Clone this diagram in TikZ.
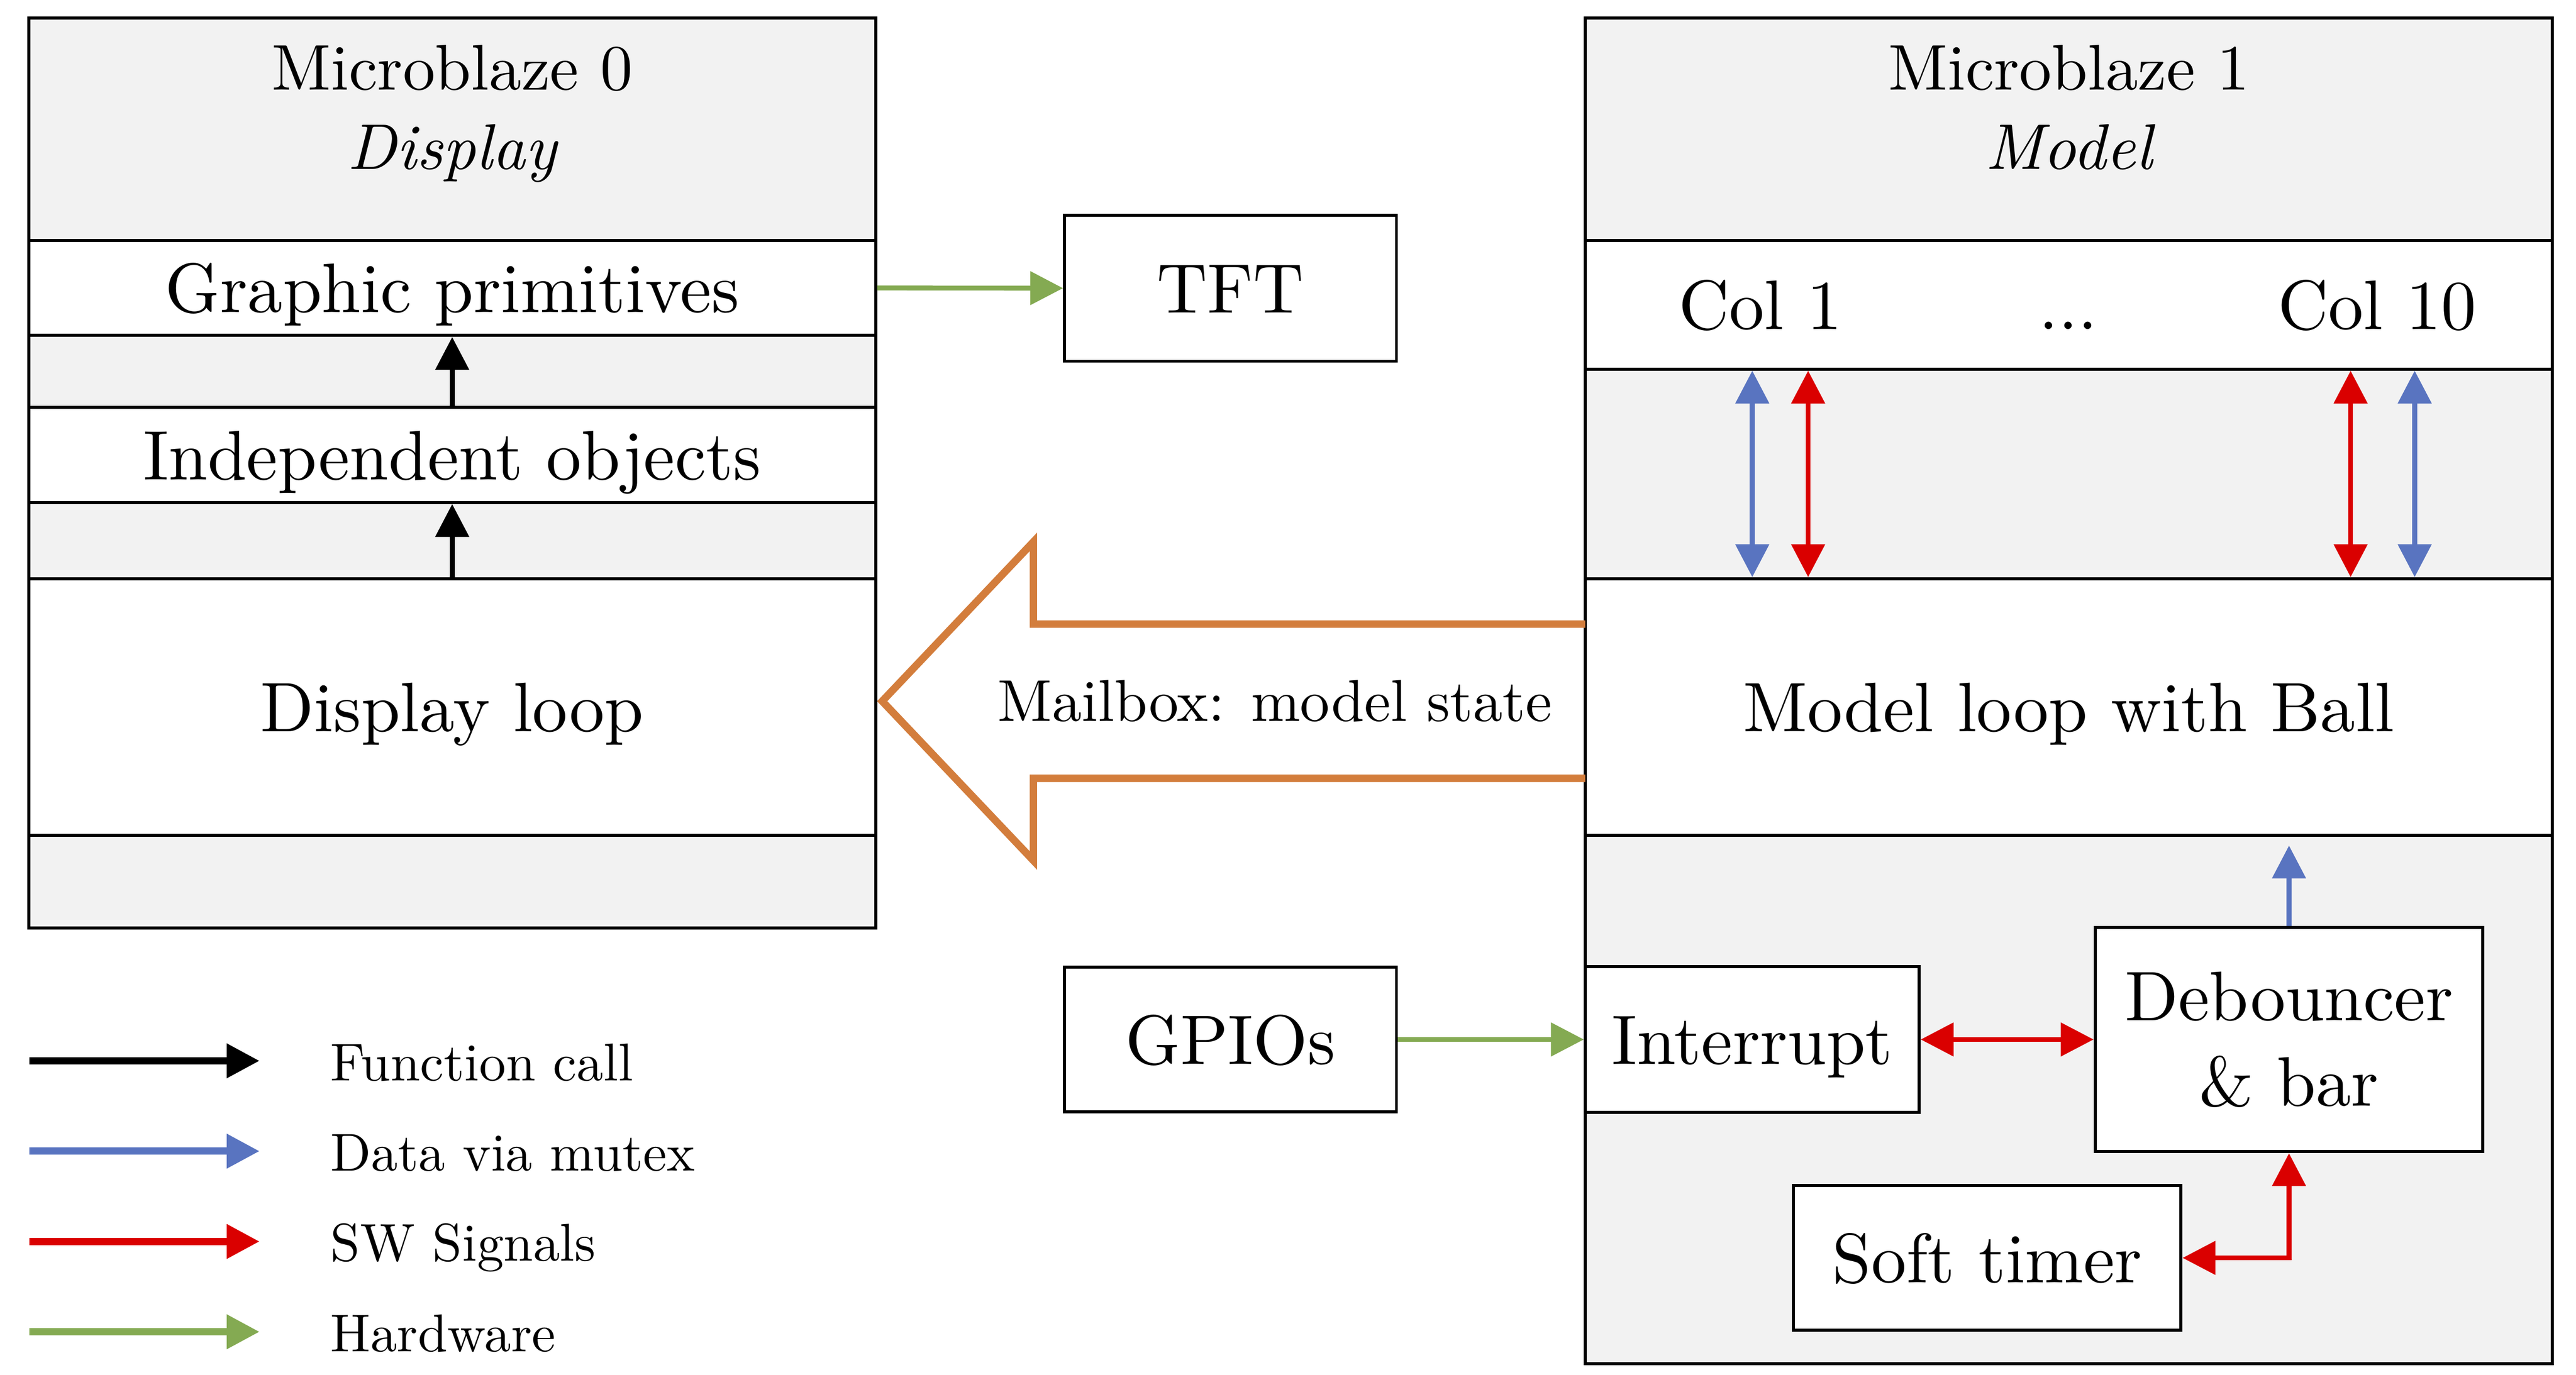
\documentclass[tikz,border=0pt]{standalone}
\usepackage{fontspec}
\setmainfont{lmroman10-regular}[Extension=.otf, ItalicFont=lmroman10-italic, BoldFont=lmroman10-bold]
\usetikzlibrary{arrows.meta}

\definecolor{mbgray}{RGB}{242,242,242}
\definecolor{cblue}{RGB}{89,116,192}
\definecolor{cred}{RGB}{218,0,0}
\definecolor{cgreen}{RGB}{132,170,82}
\definecolor{corange}{RGB}{211,125,60}

\begin{document}
\begin{tikzpicture}[x=0.75pt,y=0.75pt,yscale=-1,xscale=1,
  >={Triangle[length=15pt,width=15pt]},
  cpu/.style={draw, line width=1.4pt, fill=mbgray, inner sep=0pt},
  blk/.style={draw, line width=1.4pt, fill=white, inner sep=0pt, font=\fontsize{32}{39}\selectfont},
  mid/.style={text height=22.5pt, text depth=0pt},
  title/.style={anchor=base, font=\fontsize{29.5}{36}\selectfont},
  lbl/.style={anchor=base, font=\fontsize{32}{39}\selectfont},
  fcall/.style={->, line width=2.25pt, black},
  mutex/.style={line width=2.25pt, cblue},
  sig/.style={line width=2.25pt, cred},
  hw/.style={->, line width=2.25pt, cgreen},
  mbx/.style={draw=corange, line width=3.4pt},
  legtext/.style={anchor=base west, inner sep=0pt, font=\fontsize{24.3}{29}\selectfont}
]
\useasboundingbox (0,0) rectangle (1568,837.2);

% Microblaze 0
\node[cpu, minimum width=386.6pt, minimum height=415.5pt] (mb0) at (275.25,288) {};
\node[title] (mb0name) at (275.25,54.8) {Microblaze 0};
\node[title] (mb0role) at (275.25,102.9) {\itshape Display};
\node[blk, mid, minimum width=386.6pt, minimum height=43.4pt] (gp) at (275.25,175.35) {Graphic primitives};
\node[blk, mid, minimum width=386.6pt, minimum height=43.5pt] (io) at (275.25,277) {Independent objects};
\node[blk, mid, minimum width=386.6pt, minimum height=117.2pt] (dl) at (275.25,430.5) {Display loop};

% Microblaze 1
\node[cpu, minimum width=441.4pt, minimum height=614.6pt] (mb1) at (1259.25,420.75) {};
\node[title] (mb1name) at (1259.25,54.8) {Microblaze 1};
\node[title] (mb1role) at (1259.25,102.9) {\itshape Model};
\node[blk, minimum width=441.4pt, minimum height=58.8pt] (cols) at (1259.25,185.6) {};
\node[lbl] (col1) at (1071.5,200.6) {Col 1};
\node[lbl] (dots) at (1259,200.6) {...};
\node[lbl] (col10) at (1447,200.6) {Col 10};
\node[blk, mid, minimum width=441.4pt, minimum height=117.2pt] (ml) at (1259.25,430.5) {Model loop with Ball};
\node[blk, mid, minimum width=152.4pt, minimum height=66.4pt] (intr) at (1066.6,633) {Interrupt};
\node[blk, align=center, minimum width=177pt, minimum height=102.5pt] (deb) at (1393.3,633) {Debouncer\\\& bar};
\node[blk, mid, minimum width=176.9pt, minimum height=66.2pt] (soft) at (1209.65,766) {Soft timer};

% Peripherals
\node[blk, mid, minimum width=151.5pt, minimum height=66.75pt] (tft) at (749,175.5) {TFT};
\node[blk, mid, minimum width=151.5pt, minimum height=66pt] (gpio) at (749,633) {GPIOs};

% Calls and signals
\draw[fcall] (dl.north) -- (io.south);
\draw[fcall] (io.north) -- (gp.south);
\draw[hw] (gp.east) -- (tft.west);
\draw[hw] (gpio.east) -- (intr.west);

\coordinate (k1) at (1066.6,288);
\coordinate (k2) at (1100.6,288);
\coordinate (k3) at (1430.8,288);
\coordinate (k4) at (1469.8,288);
\foreach \k/\s in {k1/mutex,k2/sig,k3/sig,k4/mutex}
  \draw[\s,<->] (cols.south -| \k) -- (ml.north -| \k);

\draw[mutex,->,shorten >=4pt] (deb.north) -- (deb.north |- ml.south);
\draw[sig,<->] (intr.east) -- (deb.west);
\draw[sig,<->] (deb.south) |- (soft.east);

% Mailbox
\draw[mbx] (965,380) -- (629,380) -- (629,330) -- (537,427) -- (629,524) -- (629,474) -- (965,474);
\node[anchor=base, font=\fontsize{27}{32}\selectfont] (mail) at (776,439.1) {Mailbox: model state};

% Legend
\foreach \y/\s/\t in {646/fcall/Function call,701/mutex/Data via mutex,756/sig/SW Signals,811/hw/Hardware}{
  \coordinate (a\y) at (18,\y);
  \coordinate (b\y) at (158,\y);
  \draw[\s,->,line width=3.3pt] (a\y) -- (b\y);
  \node[legtext] (t\y) at (201,\y+12) {\t};
}

\end{tikzpicture}
\end{document}
